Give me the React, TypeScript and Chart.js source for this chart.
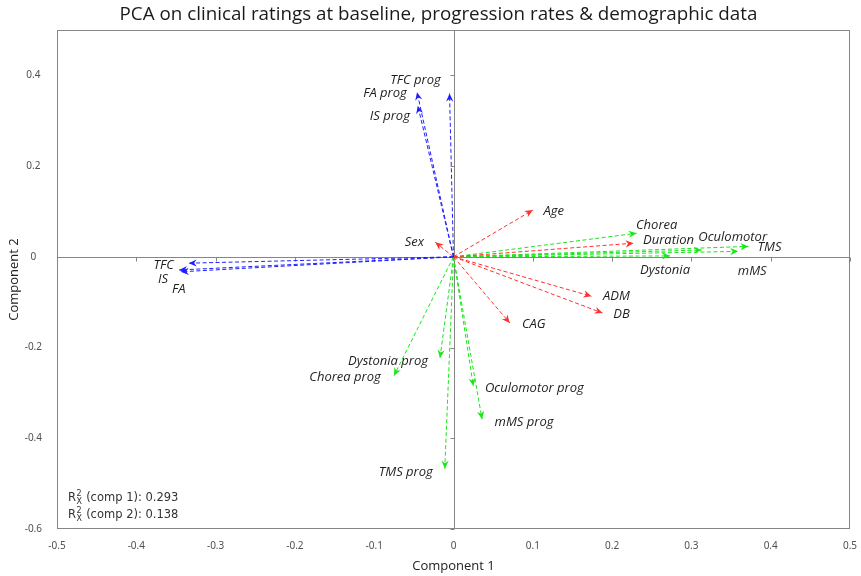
import React, { useEffect, useRef } from "react";
import { Chart, registerables } from "chart.js";

Chart.register(...registerables);

const chartTitle = "PCA on clinical ratings at baseline, progression rates & demographic data";

// Loadings of each variable on the first two principal components
const variables = [
  "TFC prog", "FA prog", "IS prog", "TFC", "IS", "FA",
  "Sex", "Age", "Duration", "ADM", "DB", "CAG",
  "Chorea", "Dystonia", "Oculomotor", "mMS", "TMS",
  "Dystonia prog", "Chorea prog", "Oculomotor prog", "mMS prog", "TMS prog",
];
const comp1 = [
  -0.005, -0.046, -0.045, -0.334, -0.346, -0.344,
  -0.023, 0.100, 0.227, 0.174, 0.188, 0.071,
  0.231, 0.273, 0.313, 0.359, 0.372,
  -0.017, -0.075, 0.025, 0.036, -0.011,
];
const comp2 = [
  0.360, 0.363, 0.333, -0.014, -0.029, -0.033,
  0.032, 0.103, 0.030, -0.087, -0.124, -0.146,
  0.052, 0.002, 0.015, 0.012, 0.023,
  -0.223, -0.262, -0.285, -0.358, -0.467,
];
const groups = [
  "functional", "functional", "functional", "functional", "functional", "functional",
  "demographic", "demographic", "demographic", "demographic", "demographic", "demographic",
  "motor", "motor", "motor", "motor", "motor",
  "motor", "motor", "motor", "motor", "motor",
];
// Explained variance of X per component
const r2Components = [1, 2];
const r2Values = [0.293, 0.138];

// Styling
const groupColors: Record<string, string> = {
  functional: "#1f1fff",
  demographic: "#ff3030",
  motor: "#19e619",
};
// Label position relative to each arrow tip, in pixels
const labelOffsets: [number, number][] = [
  [-34, -13], [-32, 1], [-28, 11], [-25, 2], [-16, 9], [-2, 18],
  [-21, 0], [21, 1], [35, -3], [25, 0], [19, 1], [24, 1],
  [20, -8], [-5, 14], [31, -13], [14, 20], [21, 1],
  [-52, 3], [-49, 2], [61, 2], [42, 3], [-39, 4],
];

const fmt = (v: number) => String(Number(v.toFixed(1)));

const biplotDecor = {
  id: "biplotDecor",
  beforeDatasetsDraw(chart: any) {
    const { ctx, chartArea: a, scales } = chart;
    const xs = scales.x;
    const ys = scales.y;
    const x0 = Math.round(xs.getPixelForValue(0)) + 0.5;
    const y0 = Math.round(ys.getPixelForValue(0)) + 0.5;
    ctx.save();
    ctx.strokeStyle = "#858585";
    ctx.lineWidth = 1;
    ctx.beginPath();
    ctx.moveTo(a.left, y0);
    ctx.lineTo(a.right, y0);
    ctx.moveTo(x0, a.top);
    ctx.lineTo(x0, a.bottom);
    for (const t of xs.ticks) {
      const px = Math.round(xs.getPixelForValue(t.value)) + 0.5;
      ctx.moveTo(px, y0);
      ctx.lineTo(px, y0 + 4);
    }
    for (const t of ys.ticks) {
      const py = Math.round(ys.getPixelForValue(t.value)) + 0.5;
      ctx.moveTo(x0, py);
      ctx.lineTo(x0 - 4, py);
    }
    ctx.stroke();
    ctx.strokeRect(
      Math.round(a.left) + 0.5,
      Math.round(a.top) + 0.5,
      Math.round(a.right - a.left) - 1,
      Math.round(a.bottom - a.top) - 1
    );

    // Chart title
    ctx.fillStyle = "#1a1a1a";
    ctx.font = "18.8px 'Open Sans'";
    ctx.textAlign = "center";
    ctx.textBaseline = "middle";
    ctx.fillText(chartTitle, (a.left + a.right) / 2 - 15, a.top - 15.5);
    ctx.restore();
  },
  afterDatasetsDraw(chart: any) {
    const { ctx, chartArea: a } = chart;
    ctx.save();
    chart.data.datasets.forEach((ds: any, i: number) => {
      const meta = chart.getDatasetMeta(i);
      const p0 = meta.data[0];
      const p1 = meta.data[1];
      const ang = Math.atan2(p1.y - p0.y, p1.x - p0.x);
      const len = 8;
      const hw = 3.6;
      const notch = 2.5;
      const c = Math.cos(ang);
      const s = Math.sin(ang);
      const bx = p1.x - len * c;
      const by = p1.y - len * s;
      ctx.fillStyle = ds.borderColor;
      ctx.beginPath();
      ctx.moveTo(p1.x, p1.y);
      ctx.lineTo(bx - hw * s, by + hw * c);
      ctx.lineTo(p1.x - (len - notch) * c, p1.y - (len - notch) * s);
      ctx.lineTo(bx + hw * s, by - hw * c);
      ctx.closePath();
      ctx.fill();

      const [dx, dy] = labelOffsets[i];
      ctx.fillStyle = "#1e1e1e";
      ctx.font = "italic 13px 'Open Sans'";
      ctx.textAlign = "center";
      ctx.textBaseline = "middle";
      ctx.fillText(variables[i], p1.x + dx, p1.y + dy);
    });

    // Explained variance note
    ctx.fillStyle = "#333";
    ctx.textAlign = "left";
    ctx.textBaseline = "alphabetic";
    r2Components.forEach((comp, k) => {
      const x = a.left + 11;
      const y = a.bottom - 28 + k * 17;
      ctx.font = "11.5px 'DejaVu Sans'";
      ctx.fillText("R", x, y);
      let w = ctx.measureText("R").width;
      ctx.font = "8px 'DejaVu Sans'";
      ctx.fillText("2", x + w + 0.5, y - 5);
      ctx.fillText("X", x + w + 0.5, y + 3);
      w += ctx.measureText("X").width + 1;
      ctx.font = "11.5px 'DejaVu Sans'";
      ctx.fillText(" (comp " + comp + "): " + r2Values[k].toFixed(3), x + w, y);
    });
    ctx.restore();
  },
};

export default function App() {
  const canvasRef = useRef<HTMLCanvasElement | null>(null);

  useEffect(() => {
    const canvas = canvasRef.current;
    if (!canvas) return;
    const datasets = variables.map((name, i) => ({
      label: name,
      data: [
        { x: 0, y: 0 },
        { x: comp1[i], y: comp2[i] },
      ],
      showLine: true,
      borderColor: groupColors[groups[i]],
      backgroundColor: groupColors[groups[i]],
      borderWidth: 1,
      borderDash: [4, 2.5],
      pointRadius: 0,
      pointHoverRadius: 0,
    }));

    const tickFont = { family: "'Noto Sans'", size: 10 };
    const chart = new Chart(canvas, {
      type: "scatter",
      data: { datasets },
      plugins: [biplotDecor],
      options: {
        animation: false,
        responsive: false,
        events: [],
        layout: { padding: { top: 30, right: 11, left: 0, bottom: 0 } },
        plugins: {
          legend: { display: false },
          tooltip: { enabled: false },
          title: { display: false },
        },
        scales: {
          x: {
            type: "linear",
            min: -0.5,
            max: 0.5,
            grid: { display: false, drawTicks: false },
            border: { display: false },
            ticks: {
              stepSize: 0.1,
              padding: 11,
              font: tickFont,
              color: "#505050",
              maxRotation: 0,
              callback: (v: any) => fmt(Number(v)),
            },
            title: {
              display: true,
              text: "Component 1",
              font: { family: "'Open Sans'", size: 13 },
              color: "#222",
              padding: { top: 0, bottom: 2 },
            },
            afterFit: (s: any) => {
              s.height = 47;
              s.paddingLeft = 0;
              s.paddingRight = 0;
            },
          },
          y: {
            type: "linear",
            min: -0.6,
            max: 0.5,
            grid: { display: false, drawTicks: false },
            border: { display: false },
            afterBuildTicks: (s: any) => {
              s.ticks = s.ticks.filter((t: any) => t.value < 0.45);
            },
            ticks: {
              stepSize: 0.2,
              crossAlign: "center",
              padding: 15,
              font: tickFont,
              color: "#505050",
              callback: (v: any) => fmt(Number(v)),
            },
            title: {
              display: true,
              text: "Component 2",
              font: { family: "'Open Sans'", size: 13 },
              color: "#222",
              padding: { top: 6, bottom: 0 },
            },
            afterFit: (s: any) => {
              s.width = 57;
              s.paddingTop = 0;
              s.paddingBottom = 0;
            },
          },
        },
      } as any,
    });
    return () => chart.destroy();
  }, []);

  return (
    <div style={{ position: "fixed", left: 0, top: 0, width: 861, height: 576, background: "#fff" }}>
      <canvas ref={canvasRef} width={861} height={576} style={{ display: "block" }} />
    </div>
  );
}
